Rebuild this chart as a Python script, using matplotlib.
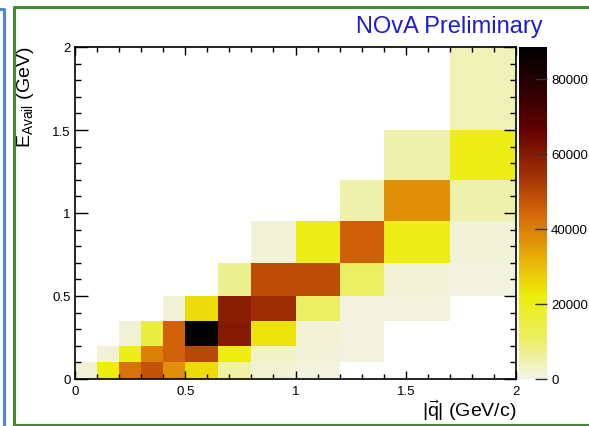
import numpy as np
import matplotlib
matplotlib.use('Agg')
import matplotlib.pyplot as plt
from matplotlib.colors import LinearSegmentedColormap
from matplotlib.lines import Line2D

# bin edges
q_edges = [0, 0.1, 0.2, 0.3, 0.4, 0.5, 0.65, 0.8, 1.0, 1.2, 1.4, 1.7, 2.0]
e_edges = [0, 0.1, 0.2, 0.35, 0.5, 0.7, 0.95, 1.2, 1.5, 2.0]

# event counts per E_avail row (bottom to top), one value per |q| bin, 0 = empty
row_00_01 = [1500, 22000, 42000, 47500, 37000, 25000, 5500, 2000, 1000, 0, 0, 0]
row_01_02 = [0, 1500, 21000, 40000, 45000, 50000, 22000, 2500, 1200, 800, 0, 0]
row_02_035 = [0, 0, 1500, 15000, 45000, 88000, 60000, 24000, 1500, 1000, 0, 0]
row_035_05 = [0, 0, 0, 0, 1500, 25000, 59000, 55000, 11000, 1000, 800, 0]
row_05_07 = [0, 0, 0, 0, 0, 0, 7000, 49000, 49000, 11000, 1200, 800]
row_07_095 = [0, 0, 0, 0, 0, 0, 0, 1500, 21000, 45500, 21000, 1200]
row_095_12 = [0, 0, 0, 0, 0, 0, 0, 0, 0, 5000, 37000, 5000]
row_12_15 = [0, 0, 0, 0, 0, 0, 0, 0, 0, 0, 5000, 21000]
row_15_20 = [0, 0, 0, 0, 0, 0, 0, 0, 0, 0, 0, 4000]

cbar_ticks = [0, 20000, 40000, 60000, 80000]
z_max = 88500

W, H = 589, 427


def fx(px):
    return px / W


def fy(py):
    return 1 - py / H


# ROOT kDarkBodyRadiator, inverted
palette = ['#f2f3e6', '#eaee5f', '#edee0b', '#e6a808', '#d46509',
           '#9c2d03', '#630001', '#2d0001', '#000000']
cmap = LinearSegmentedColormap.from_list('darkbody', palette)

plt.rcParams['font.family'] = ['Liberation Sans', 'DejaVu Sans']
plt.rcParams['mathtext.fontset'] = 'custom'
plt.rcParams['mathtext.rm'] = 'Liberation Sans'
plt.rcParams['mathtext.it'] = 'Liberation Sans'
plt.rcParams['mathtext.default'] = 'regular'

fig = plt.figure(figsize=(W / 100, H / 100), dpi=100)
fig.patch.set_facecolor('white')

# slide borders
fig.add_artist(Line2D([fx(0), fx(4), fx(4)], [fy(10), fy(10), fy(428)],
                      transform=fig.transFigure, color='#4a86e8', lw=2.2))
fig.add_artist(Line2D([fx(595), fx(13.5), fx(13.5), fx(595)],
                      [fy(8), fy(8), fy(425.5), fy(425.5)],
                      transform=fig.transFigure, color='#438a2f', lw=2.2))

ax = fig.add_axes([fx(75), fy(380), fx(516) - fx(75), fy(48) - fy(380)])
cax = fig.add_axes([fx(519), fy(380), fx(547) - fx(519), fy(48) - fy(380)])

counts = np.array([row_00_01, row_01_02, row_02_035, row_035_05, row_05_07,
                   row_07_095, row_095_12, row_12_15, row_15_20], dtype=float)
counts = np.ma.masked_equal(counts, 0)

mesh = ax.pcolormesh(q_edges, e_edges, counts, cmap=cmap, vmin=0, vmax=z_max,
                     shading='flat', edgecolors='none', antialiased=False)

ax.set_xlim(0, 2)
ax.set_ylim(0, 2)
ax.set_xticks([0, 0.5, 1, 1.5, 2])
ax.set_xticklabels(['0', '0.5', '1', '1.5', '2'])
ax.set_yticks([0, 0.5, 1, 1.5, 2])
ax.set_yticklabels(['0', '0.5', '1', '1.5', '2'])
ax.set_xticks(np.arange(0, 2.01, 0.1), minor=True)
ax.set_yticks(np.arange(0, 2.01, 0.1), minor=True)
ax.tick_params(axis='x', which='major', direction='in', length=6, width=1,
               top=True, labelsize=9.5, pad=4)
ax.tick_params(axis='x', which='minor', direction='in', length=3.5, width=1, top=True)
ax.tick_params(axis='y', which='major', direction='in', length=9, width=1,
               right=True, labelsize=9.5, pad=3)
ax.tick_params(axis='y', which='minor', direction='in', length=4.5, width=1, right=True)
for s in ax.spines.values():
    s.set_linewidth(1.2)

cb = fig.colorbar(mesh, cax=cax, ticks=cbar_ticks)
cb.outline.set_visible(False)
cb.ax.set_yticklabels([str(t) for t in cbar_ticks])
cax.tick_params(direction='in', length=9, width=1, color='#333333',
                labelsize=9.5, pad=3)

# axis titles, ROOT style (aligned to the axis end)
fig.text(fx(15), fy(47), r'$E_{Avail}$ (GeV)', rotation=90, ha='left', va='top',
         fontsize=14)
fig.text(fx(516), fy(417), r'$|\vec{q}|$ (GeV/c)', ha='right', va='baseline',
         fontsize=14)

fig.text(fx(449), fy(33), 'NOvA Preliminary', ha='center', va='baseline',
         fontsize=17, color='#1c1cd2')

fig.savefig('out.png', dpi=100, facecolor='white')
